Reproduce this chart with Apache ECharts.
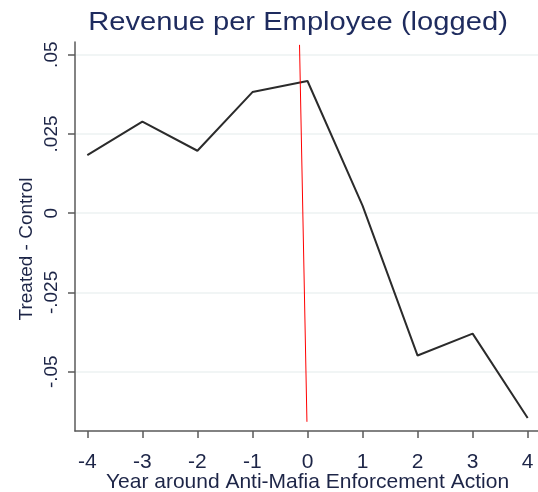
<!DOCTYPE html>
<html>
<head>
<meta charset="utf-8">
<script src="https://cdn.jsdelivr.net/npm/echarts@6/dist/echarts.min.js"></script>
<style>html,body{margin:0;padding:0;background:#fff}#c{width:538px;height:492px}</style>
</head>
<body>
<div id="c"></div>
<script>
const years = [-4, -3, -2, -1, 0, 1, 2, 3, 4];
const diff = [0.0183, 0.0289, 0.0197, 0.0382, 0.0417, 0.0024, -0.0449, -0.0380, -0.0646];
const yTicks = [-0.05, -0.025, 0, 0.025, 0.05];
const yTickLabels = ['-.05', '-.025', '0', '.025', '.05'];
const eventLine = [[-0.145, 0.0531], [-0.01, -0.0658]];
const titleText = 'Revenue per Employee (logged)';
const xTitle = 'Year around Anti-Mafia Enforcement Action';
const yTitle = 'Treated - Control';

const FONT = '"Liberation Sans", Arial, sans-serif';
const TXT = '#1d2547';
const chart = echarts.init(document.getElementById('c'), null, {renderer: 'canvas'});
chart.setOption({
  backgroundColor: '#fff',
  animation: false,
  grid: {left: 75, top: 42, width: 465, height: 389, containLabel: false, outerBoundsMode: 'none'},
  xAxis: {
    type: 'value', min: -4.224, max: 4.224,
    axisLine: {show: true, onZero: false, lineStyle: {color: '#5a5a5a', width: 1.5}},
    axisTick: {show: true, length: 7, customValues: years, lineStyle: {color: '#5a5a5a', width: 1.5}},
    axisLabel: {customValues: years, margin: 21, fontFamily: FONT, fontSize: 21, color: TXT},
    splitLine: {show: false},
    name: xTitle, nameLocation: 'middle', nameGap: 41, nameMoveOverlap: false,
    nameTextStyle: {fontFamily: FONT, fontSize: 21, color: TXT}
  },
  yAxis: {
    type: 'value', min: -0.0687, max: 0.0540,
    axisLine: {show: true, onZero: false, lineStyle: {color: '#5a5a5a', width: 1.5}},
    axisTick: {show: true, length: 7, customValues: yTicks, lineStyle: {color: '#5a5a5a', width: 1.5}},
    axisLabel: {
      customValues: yTicks, rotate: 90, margin: 14, fontFamily: FONT, fontSize: 19, color: TXT,
      formatter: v => { const i = yTicks.findIndex(t => Math.abs(t - v) < 1e-9); return i >= 0 ? yTickLabels[i] : ''; }
    },
    splitLine: {show: true, lineStyle: {color: '#edf2f2', width: 1.5}}
  },
  graphic: [{
    type: 'text', x: 27, y: 249, rotation: Math.PI / 2,
    style: {text: yTitle, fontFamily: FONT, fontSize: 19, fill: TXT, align: 'center', verticalAlign: 'middle'}
  }, {
    type: 'text', x: 298, y: 23, scaleX: 1.1,
    style: {text: titleText, fontFamily: FONT, fontSize: 26.5, fill: '#1e2b5e', align: 'center', verticalAlign: 'middle'}
  }],
  series: [
    {
      type: 'line', data: years.map((x, i) => [x, diff[i]]), symbol: 'none',
      lineStyle: {color: '#2b2b2b', width: 2}, z: 3
    },
    {
      type: 'line', data: eventLine, symbol: 'none',
      lineStyle: {color: '#ff0000', width: 1}, z: 4
    }
  ]
});
</script>
</body>
</html>
